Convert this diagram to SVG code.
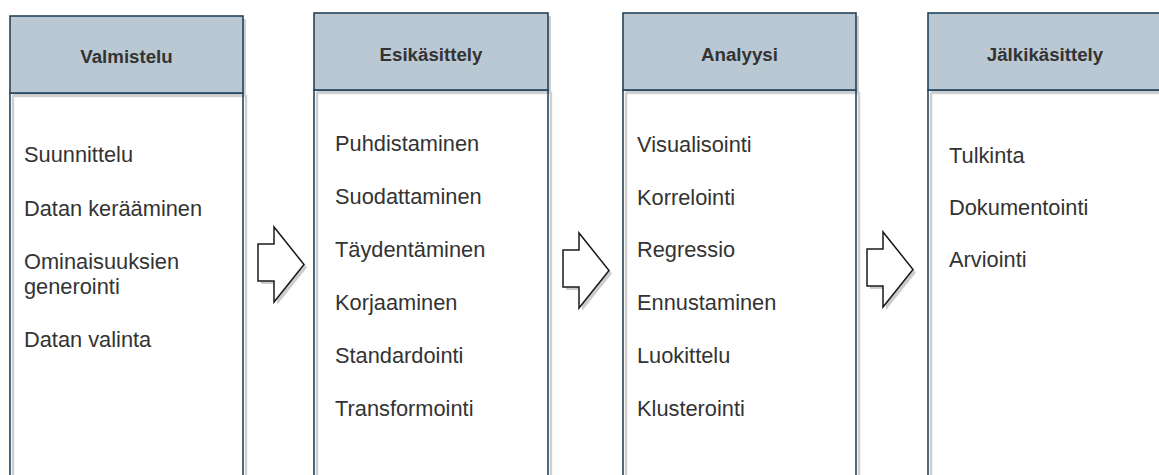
<svg xmlns="http://www.w3.org/2000/svg" width="1159" height="475" viewBox="0 0 1159 475">
  <style>
    .hdr { fill: #bac8d3; stroke: #23445d; stroke-width: 1.6; }
    .body { fill: none; stroke: #23445d; stroke-width: 1.6; }
    .shadow { fill: none; stroke: #cfcfcf; stroke-width: 2.4; }
    .shadow-fill { fill: #cfcfcf; stroke: none; }
    .title { font-family: "Liberation Sans", Arial, sans-serif; font-size: 18.7px; font-weight: bold; fill: #333333; text-anchor: middle; }
    .item { font-family: "Liberation Sans", Arial, sans-serif; font-size: 21.8px; fill: #333333; }
    .arrow { fill: #ffffff; stroke: #1a1a1a; stroke-width: 1.5; stroke-linejoin: miter; }
    .arrow-shadow { fill: #cccccc; stroke: none; }
  </style>
  <defs>
    <!-- block arrow shape, origin at tail top-left -->
    <path id="blockArrow" d="M0,17 H16 V0 L46,37.5 L16,75 V54 H0 Z"/>
  </defs>

  <rect width="1159" height="475" fill="#ffffff"/>

  <!-- stage 1 -->
  <g id="stage-valmistelu">
    <rect class="shadow-fill" x="13" y="19" width="233" height="77"/>
    <rect class="shadow" x="13" y="96" width="233" height="420"/>
    <rect class="body" x="10" y="93" width="233" height="420"/>
    <rect class="hdr" x="10" y="16" width="233" height="77"/>
    <text class="title" x="126.5" y="63">Valmistelu</text>
    <text class="item" x="24" y="162">Suunnittelu</text>
    <text class="item" x="24" y="216">Datan kerääminen</text>
    <text class="item" x="24" y="269">Ominaisuuksien</text>
    <text class="item" x="24" y="294">generointi</text>
    <text class="item" x="24" y="347">Datan valinta</text>
  </g>

  <!-- stage 2 -->
  <g id="stage-esikasittely">
    <rect class="shadow-fill" x="317" y="16" width="234" height="77"/>
    <rect class="shadow" x="317" y="93" width="234" height="420"/>
    <rect class="body" x="314" y="90" width="234" height="420"/>
    <rect class="hdr" x="314" y="13" width="234" height="77"/>
    <text class="title" x="431" y="61">Esikäsittely</text>
    <text class="item" x="335" y="151">Puhdistaminen</text>
    <text class="item" x="335" y="204">Suodattaminen</text>
    <text class="item" x="335" y="257">Täydentäminen</text>
    <text class="item" x="335" y="310">Korjaaminen</text>
    <text class="item" x="335" y="363">Standardointi</text>
    <text class="item" x="335" y="416">Transformointi</text>
  </g>

  <!-- stage 3 -->
  <g id="stage-analyysi">
    <rect class="shadow-fill" x="626" y="16" width="233" height="77"/>
    <rect class="shadow" x="626" y="93" width="233" height="420"/>
    <rect class="body" x="623" y="90" width="233" height="420"/>
    <rect class="hdr" x="623" y="13" width="233" height="77"/>
    <text class="title" x="739.5" y="61">Analyysi</text>
    <text class="item" x="637" y="152">Visualisointi</text>
    <text class="item" x="637" y="205">Korrelointi</text>
    <text class="item" x="637" y="257">Regressio</text>
    <text class="item" x="637" y="310">Ennustaminen</text>
    <text class="item" x="637" y="363">Luokittelu</text>
    <text class="item" x="637" y="416">Klusterointi</text>
  </g>

  <!-- stage 4 -->
  <g id="stage-jalkikasittely">
    <rect class="shadow-fill" x="931" y="16" width="234" height="77"/>
    <rect class="shadow" x="931" y="93" width="234" height="420"/>
    <rect class="body" x="928" y="90" width="234" height="420"/>
    <rect class="hdr" x="928" y="13" width="234" height="77"/>
    <text class="title" x="1045" y="61">Jälkikäsittely</text>
    <text class="item" x="949" y="163">Tulkinta</text>
    <text class="item" x="949" y="215">Dokumentointi</text>
    <text class="item" x="949" y="267">Arviointi</text>
  </g>

  <!-- flow arrows between stages -->
  <g id="connectors">
    <g transform="translate(258,227)">
      <use href="#blockArrow" class="arrow-shadow" transform="translate(3,3)"/>
      <use href="#blockArrow" class="arrow"/>
    </g>
    <g transform="translate(563,233)">
      <use href="#blockArrow" class="arrow-shadow" transform="translate(3,3)"/>
      <use href="#blockArrow" class="arrow"/>
    </g>
    <g transform="translate(867,232)">
      <use href="#blockArrow" class="arrow-shadow" transform="translate(3,3)"/>
      <use href="#blockArrow" class="arrow"/>
    </g>
  </g>
</svg>
